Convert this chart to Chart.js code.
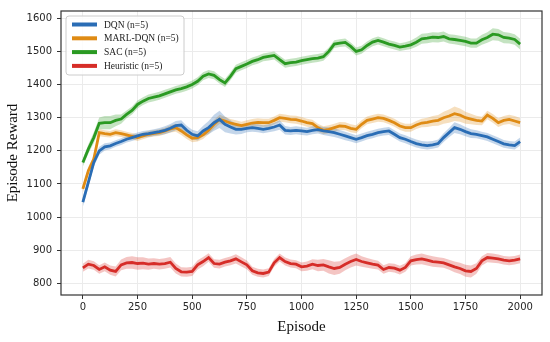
<!DOCTYPE html>
<html lang="en">
<head>
    <meta charset="UTF-8">
    <title>Episode Reward</title>
    <script src="https://cdn.jsdelivr.net/npm/chart.js"></script>
    <style>
        html, body { margin: 0; padding: 0; background: #fff; }
        #wrap { width: 550px; height: 342px; }
    </style>
</head>
<body>
<div id="wrap"><canvas id="rewardChart"></canvas></div>
<script>
    // sampling grid (episodes), every 25
    const episodes = Array.from({ length: 81 }, (_, i) => i * 25);
    const xTicks = [0, 250, 500, 750, 1000, 1250, 1500, 1750, 2000];
    const yTicks = [800, 900, 1000, 1100, 1200, 1300, 1400, 1500, 1600];

    const seriesNames = ['DQN (n=5)', 'MARL-DQN (n=5)', 'SAC (n=5)', 'Heuristic (n=5)'];

    const dqnMean = [1045, 1105, 1165, 1200, 1212, 1215, 1222, 1228, 1235, 1240, 1245, 1250, 1252, 1255, 1258, 1262, 1268, 1276, 1278, 1262,
        1250, 1245, 1260, 1270, 1285, 1295, 1280, 1272, 1265, 1265, 1268, 1270, 1268, 1265, 1268, 1272, 1278, 1262, 1260, 1262,
        1260, 1258, 1262, 1264, 1260, 1258, 1255, 1250, 1245, 1240, 1235, 1240, 1246, 1250, 1255, 1258, 1260, 1250, 1240, 1235,
        1228, 1222, 1218, 1216, 1218, 1222, 1240, 1255, 1270, 1265, 1258, 1252, 1250, 1246, 1242, 1235, 1228, 1221, 1218, 1216, 1228];
    const dqnStd = [14, 14, 13, 12, 11, 10, 10, 10, 10, 10, 10, 10, 10, 10, 11, 12, 13, 14, 14, 14,
        14, 14, 16, 20, 24, 26, 24, 20, 16, 14, 12, 12, 12, 12, 12, 13, 14, 13, 12, 12,
        12, 12, 12, 12, 12, 13, 13, 13, 13, 12, 12, 12, 12, 12, 12, 12, 12, 12, 12, 12,
        12, 12, 12, 12, 12, 12, 13, 14, 16, 15, 14, 13, 12, 12, 12, 12, 12, 12, 12, 12, 12];

    const marlMean = [1085, 1140, 1175, 1255, 1252, 1250, 1255, 1252, 1248, 1244, 1240, 1245, 1250, 1253, 1255, 1260, 1266, 1270, 1260, 1248,
        1238, 1240, 1248, 1262, 1280, 1295, 1290, 1284, 1280, 1276, 1280, 1284, 1286, 1285, 1285, 1292, 1300, 1298, 1295, 1294,
        1290, 1285, 1282, 1270, 1262, 1265, 1270, 1275, 1274, 1268, 1265, 1280, 1292, 1296, 1300, 1298, 1292, 1285, 1275, 1270,
        1270, 1278, 1284, 1286, 1290, 1292, 1300, 1305, 1312, 1308, 1300, 1296, 1292, 1290, 1308, 1298, 1285, 1292, 1295, 1290, 1285];
    const marlStd = [12, 12, 12, 11, 10, 10, 10, 10, 10, 10, 10, 10, 10, 10, 10, 10, 11, 12, 12, 12,
        12, 12, 12, 12, 13, 14, 13, 12, 12, 12, 12, 12, 12, 12, 12, 12, 12, 12, 12, 12,
        12, 12, 12, 12, 12, 12, 12, 12, 12, 12, 12, 12, 12, 12, 12, 12, 12, 12, 12, 12,
        12, 12, 13, 14, 15, 16, 18, 20, 22, 20, 18, 16, 14, 13, 13, 13, 13, 13, 14, 15, 14];

    const sacMean = [1165, 1205, 1240, 1283, 1285, 1285, 1292, 1296, 1310, 1322, 1340, 1350, 1358, 1362, 1366, 1372, 1378, 1384, 1388, 1393,
        1400, 1410, 1425, 1432, 1428, 1415, 1405, 1425, 1448, 1455, 1462, 1470, 1475, 1482, 1485, 1488, 1475, 1463, 1466, 1468,
        1472, 1475, 1478, 1480, 1484, 1500, 1522, 1525, 1527, 1515, 1500, 1505, 1518, 1528, 1533, 1528, 1522, 1518, 1513, 1516,
        1520, 1528, 1538, 1540, 1543, 1542, 1545, 1538, 1536, 1533, 1530, 1525, 1525, 1535, 1542, 1552, 1550, 1542, 1540, 1536, 1522];
    const sacStd = [12, 14, 16, 18, 20, 20, 18, 14, 12, 12, 12, 12, 12, 12, 12, 12, 12, 12, 12, 12,
        12, 12, 12, 12, 12, 12, 12, 12, 12, 12, 12, 12, 12, 12, 12, 12, 12, 12, 12, 12,
        12, 12, 12, 12, 12, 12, 12, 12, 12, 12, 12, 12, 12, 12, 12, 12, 12, 12, 12, 12,
        13, 14, 15, 15, 15, 15, 15, 14, 14, 14, 14, 14, 14, 15, 16, 18, 18, 17, 16, 16, 16];

    const heurMean = [847, 858, 854, 842, 850, 840, 836, 856, 862, 863, 860, 861, 858, 860, 858, 860, 864, 845, 835, 834,
        836, 856, 866, 878, 860, 858, 864, 868, 874, 865, 856, 838, 832, 830, 834, 862, 878, 866, 860, 858,
        850, 852, 858, 854, 856, 850, 845, 848, 858, 866, 872, 866, 862, 858, 855, 842, 848, 846, 840, 848,
        868, 872, 874, 870, 866, 864, 862, 856, 850, 845, 838, 836, 845, 868, 878, 876, 874, 870, 868, 870, 874];
    const heurStd = [12, 13, 13, 13, 13, 14, 15, 16, 18, 19, 19, 18, 17, 16, 16, 16, 16, 15, 14, 14,
        14, 14, 14, 13, 13, 13, 13, 13, 14, 14, 13, 12, 12, 12, 12, 12, 12, 12, 12, 12,
        13, 14, 15, 17, 18, 20, 20, 19, 18, 18, 18, 16, 15, 14, 13, 13, 13, 13, 13, 13,
        14, 15, 16, 16, 16, 15, 15, 15, 16, 17, 18, 18, 16, 14, 14, 14, 13, 13, 13, 13, 13];

    const colors = ['#2a6db5', '#df8b14', '#2a9a22', '#d62d28'];
    const bandColors = ['rgba(42,109,181,0.28)', 'rgba(223,139,20,0.28)', 'rgba(42,154,34,0.28)', 'rgba(214,45,40,0.28)'];

    const means = [dqnMean, marlMean, sacMean, heurMean];
    const stds = [dqnStd, marlStd, sacStd, heurStd];

    const datasets = [];
    means.forEach((m, s) => {
        const sd = stds[s];
        datasets.push({
            label: seriesNames[s] + ' upper',
            data: episodes.map((e, i) => ({ x: e, y: m[i] + sd[i] })),
            borderWidth: 0,
            pointRadius: 0,
            backgroundColor: bandColors[s],
            fill: '+1',
            order: 2
        });
        datasets.push({
            label: seriesNames[s] + ' lower',
            data: episodes.map((e, i) => ({ x: e, y: m[i] - sd[i] })),
            borderWidth: 0,
            pointRadius: 0,
            fill: false,
            order: 2
        });
    });
    means.forEach((m, s) => {
        datasets.push({
            label: seriesNames[s],
            data: episodes.map((e, i) => ({ x: e, y: m[i] })),
            borderColor: colors[s],
            borderWidth: 2.8,
            pointRadius: 0,
            fill: false,
            tension: 0,
            order: 1
        });
    });

    // frame + legend box inside the plot, like matplotlib
    const framePlugin = {
        id: 'frame',
        afterDraw(chart) {
            const c = chart.ctx, a = chart.chartArea;
            c.save();
            c.strokeStyle = '#333';
            c.lineWidth = 1.2;
            c.strokeRect(a.left, a.top, a.right - a.left, a.bottom - a.top);

            const bx = a.left + 5, by = a.top + 5, bw = 118, bh = 59;
            c.beginPath();
            c.roundRect(bx, by, bw, bh, 3);
            c.fillStyle = 'rgba(255,255,255,0.85)';
            c.fill();
            c.strokeStyle = '#cccccc';
            c.lineWidth = 1;
            c.stroke();

            c.font = '9.5px "Liberation Serif", serif';
            c.textBaseline = 'middle';
            seriesNames.forEach((name, s) => {
                const y = by + 8.5 + s * 13.8;
                c.strokeStyle = colors[s];
                c.lineWidth = 4;
                c.beginPath();
                c.moveTo(bx + 6, y);
                c.lineTo(bx + 31, y);
                c.stroke();
                c.fillStyle = '#222';
                c.fillText(name, bx + 38, y + 0.5);
            });
            c.restore();
        }
    };

    new Chart(document.getElementById('rewardChart'), {
        type: 'line',
        data: { datasets },
        plugins: [framePlugin],
        options: {
            responsive: true,
            maintainAspectRatio: false,
            animation: false,
            layout: { padding: { top: 7, right: 8, left: 0, bottom: 0 } },
            plugins: {
                legend: { display: false },
                tooltip: { enabled: false }
            },
            scales: {
                x: {
                    type: 'linear',
                    min: -100,
                    max: 2100,
                    afterBuildTicks: (scale) => { scale.ticks = xTicks.map(v => ({ value: v })); },
                    afterFit: (scale) => { scale.height = 47; },
                    grid: { color: '#ebebeb', tickColor: '#333', tickLength: 4 },
                    border: { display: false },
                    ticks: {
                        color: '#262626', padding: 2, maxRotation: 0,
                        font: { family: 'DejaVu Sans', size: 10 },
                        callback: (v) => String(v)
                    },
                    title: {
                        display: true,
                        text: 'Episode',
                        color: '#111',
                        font: { family: 'Liberation Serif', size: 15 },
                        padding: { top: 0, bottom: 6 }
                    }
                },
                y: {
                    min: 765,
                    max: 1622,
                    afterBuildTicks: (scale) => { scale.ticks = yTicks.map(v => ({ value: v })); },
                    afterFit: (scale) => { scale.width = 61; },
                    grid: { color: '#ebebeb', tickColor: '#333', tickLength: 4 },
                    border: { display: false },
                    ticks: {
                        color: '#262626', padding: 5,
                        font: { family: 'DejaVu Sans', size: 10 },
                        callback: (v) => String(v)
                    },
                    title: {
                        display: true,
                        text: 'Episode Reward',
                        color: '#111',
                        font: { family: 'Liberation Serif', size: 15 },
                        padding: { top: 4, bottom: 0 }
                    }
                }
            }
        }
    });
</script>
</body>
</html>
